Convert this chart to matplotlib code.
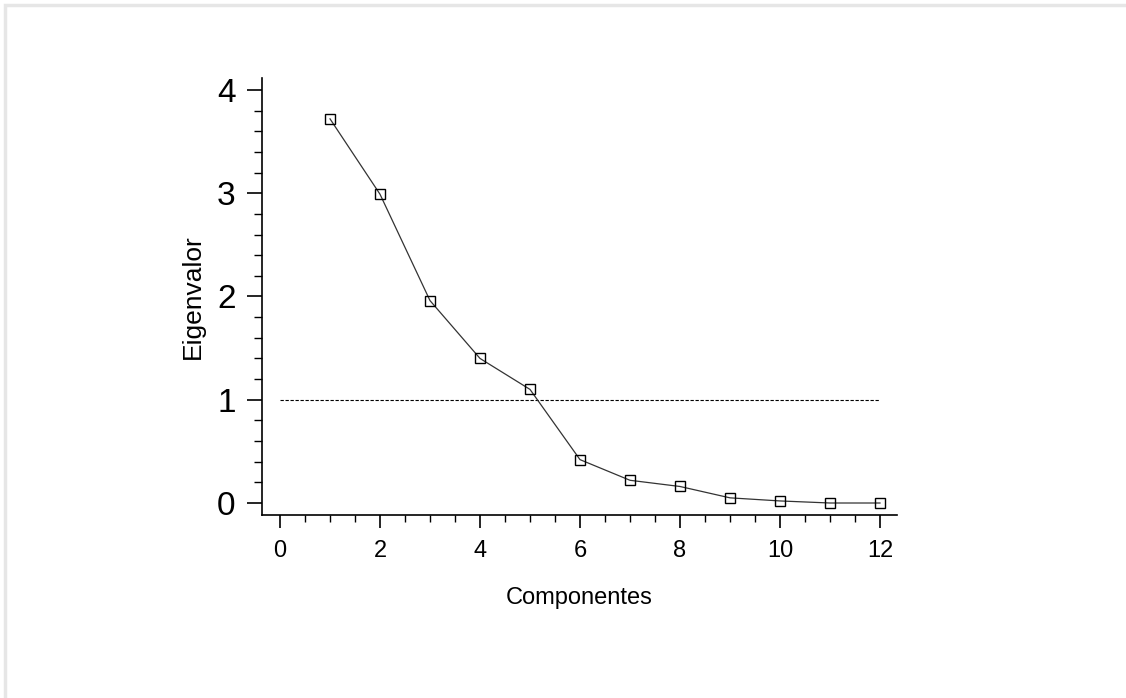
import numpy as np
import matplotlib.pyplot as plt
from matplotlib.ticker import MultipleLocator
from matplotlib.patches import Rectangle

plt.rcParams['font.family'] = ['Liberation Sans', 'DejaVu Sans']

componentes = [1, 2, 3, 4, 5, 6, 7, 8, 9, 10, 11, 12]
eigenvalor = [3.72, 2.99, 1.96, 1.40, 1.10, 0.42, 0.22, 0.16, 0.05, 0.02, 0.0, 0.0]
limite = 1.0

fig = plt.figure(figsize=(11.26, 6.98), dpi=100)
# light gray frame at top/left edge of the picture
fig.patches.append(Rectangle((0.0045, -0.1), 1.2, 1.0925, transform=fig.transFigure,
                             fill=False, edgecolor='#e6e6e6', linewidth=2.5))
ax = fig.add_axes([0.2327, 0.2622, 0.5639, 0.6261])

ax.plot([0, 12], [limite, limite], color='black', linestyle=(0, (3, 1.5)), linewidth=0.8)
ax.plot(componentes, eigenvalor, color='#333333', linewidth=0.9,
        marker='s', markersize=7, markerfacecolor='none', markeredgecolor='black',
        markeredgewidth=1.0)

ax.set_xlim(-0.36, 12.34)
ax.set_ylim(-0.116, 4.116)
ax.xaxis.set_major_locator(MultipleLocator(2))
ax.xaxis.set_minor_locator(MultipleLocator(0.5))
ax.yaxis.set_major_locator(MultipleLocator(1))
ax.yaxis.set_minor_locator(MultipleLocator(0.2))

ax.spines['right'].set_visible(False)
ax.spines['top'].set_visible(False)
ax.spines['left'].set_linewidth(1.2)
ax.spines['bottom'].set_linewidth(1.2)
ax.tick_params(axis='x', which='major', length=9, width=1.2, labelsize=17, pad=9)
ax.tick_params(axis='x', which='minor', length=5, width=1.0)
ax.tick_params(axis='y', which='major', length=11, width=1.2, labelsize=24, pad=8)
ax.tick_params(axis='y', which='minor', length=6, width=1.0)

ax.set_xlabel('Componentes', fontsize=17, labelpad=18)
ax.set_ylabel('Eigenvalor', fontsize=19, labelpad=9)

fig.savefig('out.png', dpi=100)
